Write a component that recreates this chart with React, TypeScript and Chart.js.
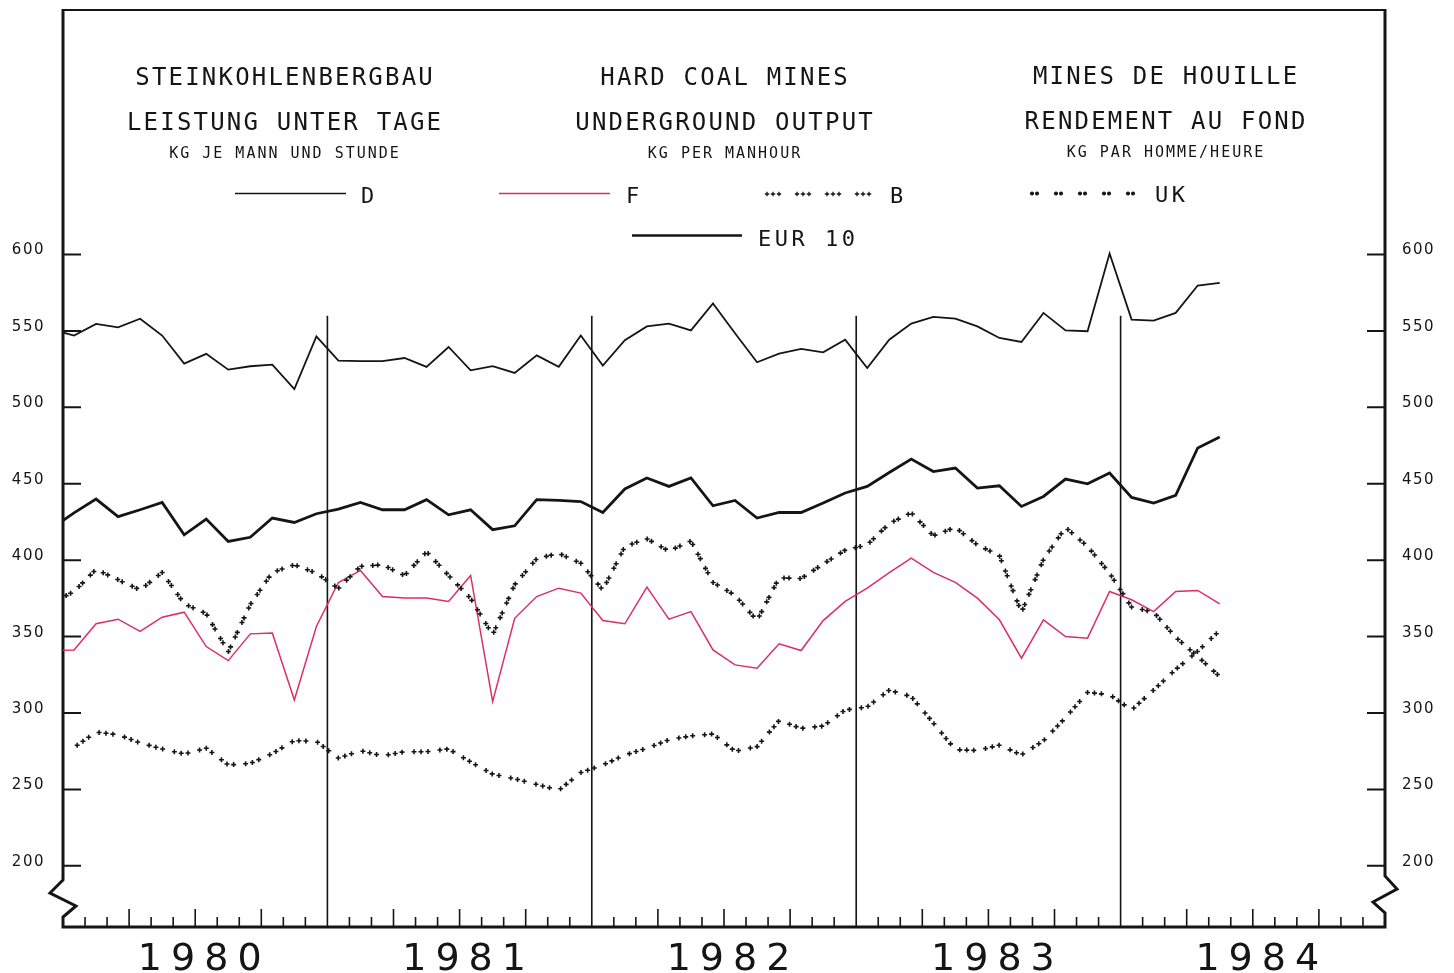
import React, { useEffect, useRef } from 'react';
import { Chart, registerables } from 'chart.js';

Chart.register(...registerables);

// ---------------- data ----------------
// first entry of every series is Dec 1979 (only its segment reaching the left frame is visible)
const monthLabels: string[] = (() => {
  const out: string[] = [];
  for (let i = 0; i < 54; i++) {
    const t = 11 + i;
    const y = 1979 + Math.floor(t / 12);
    const m = (t % 12) + 1;
    out.push(`${y}-${m < 10 ? '0' + m : m}`);
  }
  return out;
})();

const yearLabels = ['1980', '1981', '1982', '1983', '1984'];
const yTickValues = [200, 250, 300, 350, 400, 450, 500, 550, 600];
const seriesNames = ['D', 'F', 'B', 'UK', 'EUR 10'];

const seriesD = [551, 547, 554.6, 552.4, 558, 547, 528.6, 535, 524.7, 526.9, 528, 512, 546.5,
  530.6, 530.2, 530.2, 532.3, 526.5, 539.5, 524.2, 527, 522.5, 534, 526.5, 547,
  527.3, 543.9, 553, 554.8, 550.4, 568, 548.5, 529.5, 535.2, 538.2, 536, 544.3,
  525.8, 544.3, 554.8, 559.2, 558, 553, 545.4, 542.8, 561.8, 550.4, 549.8, 600.7,
  557.4, 556.8, 561.8, 579.7, 581.5];

const seriesF = [341, 341.3, 358.4, 361.4, 353.4, 362.7, 366, 343.5, 334.3, 351.8, 352.3, 308.6, 356.6,
  385.4, 393.3, 376.2, 375.2, 375.2, 373, 390, 307.5, 362, 376.2, 381.7, 378.5,
  360.5, 358.4, 382.4, 361.4, 366.4, 341.3, 331.5, 329.3, 345.3, 340.9, 360.5, 373,
  381.7, 391.8, 401.4, 392, 385.5, 375.2, 361, 335.9, 361, 350, 349, 379.5,
  374.1, 366.4, 379.5, 380.2, 371.4];

const seriesB = [372, 379.5, 394, 387.2, 380.5, 392, 371.5, 365, 340, 371, 392, 397, 391.5,
  381.5, 396, 397, 390, 405.5, 390, 375, 351.2, 384, 401, 404.5, 398,
  380.5, 409, 414, 406, 412.5, 385.5, 377, 360.5, 388.5, 388, 397.5, 406.6,
  410, 424, 431, 416, 421.5, 410, 403, 365.8, 400.5, 421.5, 409, 391.5,
  369.3, 366, 349.6, 337, 323.8];

const seriesUK = [276, 277.5, 287.5, 285.8, 280.5, 276.5, 273.2, 277, 266, 267, 273.5, 282, 281.5,
  270.5, 275.4, 272, 274.7, 274.7, 276.5, 268, 260, 257, 253.3, 249.5, 261,
  266, 272.5, 277, 282.5, 285, 286.3, 275, 278, 295, 290, 291.5, 302,
  304, 315, 310.7, 293.5, 276, 275.5, 279, 272.6, 281.9, 297, 313.5, 312,
  302, 315, 328.5, 340.5, 354];

const seriesEUR = [421, 431, 440, 428.5, 433, 437.8, 416.6, 426.9, 412.3, 415, 427.6, 424.7, 430.4,
  433.4, 437.8, 433, 433, 439.6, 429.7, 433, 420, 422.5, 439.6, 439.2, 438.4,
  431.2, 446.6, 453.8, 448.3, 453.8, 435.6, 439.1, 427.6, 431.2, 431.2, 437.4, 444,
  448.3, 457.4, 466.2, 458, 460.3, 447.2, 448.7, 435.2, 441.7, 453.1, 450, 457,
  441.1, 437.4, 442.4, 473.4, 480.6];

const titleColumns = [
  ['STEINKOHLENBERGBAU', 'LEISTUNG UNTER TAGE', 'KG JE MANN UND STUNDE'],
  ['HARD COAL MINES', 'UNDERGROUND OUTPUT', 'KG PER MANHOUR'],
  ['MINES DE HOUILLE', 'RENDEMENT AU FOND', 'KG PAR HOMME/HEURE'],
];

// ---------------- style / layout ----------------
const INK = '#151515';
const RED = '#dd2e63';
const MONO = '"DejaVu Sans Mono", monospace';
const SANS = '"DejaVu Sans", sans-serif';
const SEPARATOR_TOP = 560;
const titleCenters = [284, 724, 1165];
const titleBaselines = [85, 129.5, 158];
const legendLayout: Record<string, any> = {
  D: { kind: 'line', color: INK, width: 1.6, x0: 235, x1: 346, y: 193.5, tx: 361, ty: 202.5 },
  F: { kind: 'line', color: RED, width: 1.4, x0: 499, x1: 610, y: 193.5, tx: 626, ty: 202.5 },
  B: { kind: 'plus', x0: 767, x1: 874, y: 194, tx: 890, ty: 202.5 },
  UK: { kind: 'star', x0: 1032, x1: 1135, y: 193.5, tx: 1155, ty: 201.5 },
  'EUR 10': { kind: 'line', color: INK, width: 2.4, x0: 632, x1: 742, y: 235.5, tx: 758, ty: 246 },
};

const toPoints = (arr: number[]) => arr.map((v, i) => ({ x: i - 0.5, y: v }));

function drawSpaced(ctx: any, text: string, cx: number, baseline: number, font: string, ls: number) {
  ctx.font = font;
  ctx.letterSpacing = ls + 'px';
  ctx.textAlign = 'left';
  ctx.textBaseline = 'alphabetic';
  const w = ctx.measureText(text).width;
  ctx.fillText(text, cx - (w - ls) / 2, baseline);
  ctx.letterSpacing = '0px';
}

function walkMarks(pts: { x: number; y: number }[], groupN: number, pitch: number, period: number,
  cb: (x: number, y: number) => void) {
  const posOf = (j: number) => Math.floor(j / groupN) * period + (j % groupN) * pitch;
  let total = 0;
  let j = 0;
  for (let i = 0; i < pts.length - 1; i++) {
    const a = pts[i], b = pts[i + 1];
    const L = Math.hypot(b.x - a.x, b.y - a.y);
    if (L <= 0) continue;
    while (posOf(j) <= total + L) {
      const t = (posOf(j) - total) / L;
      cb(a.x + (b.x - a.x) * t, a.y + (b.y - a.y) * t);
      j++;
    }
    total += L;
  }
}

function markPath(ctx: any, kind: string, x: number, y: number, r: number) {
  ctx.moveTo(x - r, y); ctx.lineTo(x + r, y);
  ctx.moveTo(x, y - r); ctx.lineTo(x, y + r);
  if (kind === 'star') {
    const d = r * 0.7;
    ctx.moveTo(x - d, y - d); ctx.lineTo(x + d, y + d);
    ctx.moveTo(x - d, y + d); ctx.lineTo(x + d, y - d);
  }
}

const decorPlugin = {
  id: 'decor',
  beforeDraw(chart: any) {
    const ctx = chart.ctx;
    ctx.save();
    ctx.fillStyle = '#ffffff';
    ctx.fillRect(0, 0, chart.width, chart.height);
    ctx.restore();
    const spacing: Record<string, string> = { x: '9px', y: '1.5px', y2: '1.5px' };
    Object.keys(spacing).forEach((id) => {
      const s: any = chart.scales[id];
      if (s && !s.__spaced) {
        const orig = s.drawLabels.bind(s);
        s.drawLabels = (area: any) => {
          ctx.save();
          ctx.letterSpacing = spacing[id];
          orig(area);
          ctx.restore();
        };
        s.__spaced = true;
      }
    });
  },
  beforeDatasetsDraw(chart: any) {
    const ctx = chart.ctx;
    const { left, right, top, bottom } = chart.chartArea;
    const xs = chart.scales.x;
    const ys = chart.scales.y;
    ctx.save();
    ctx.strokeStyle = INK;
    ctx.fillStyle = INK;
    ctx.lineCap = 'butt';
    ctx.lineJoin = 'miter';

    // month ticks
    ctx.lineWidth = 1.6;
    ctx.beginPath();
    for (let m = 1; m < 60; m++) {
      if (m % 12 === 0) continue;
      const x = xs.getPixelForValue(m);
      const len = m % 3 === 0 ? 18 : 10;
      ctx.moveTo(x, bottom);
      ctx.lineTo(x, bottom - len);
    }
    ctx.stroke();

    // year separators
    ctx.lineWidth = 1.6;
    ctx.beginPath();
    const sepTop = ys.getPixelForValue(SEPARATOR_TOP);
    for (let m = 12; m < 60; m += 12) {
      const x = xs.getPixelForValue(m);
      ctx.moveTo(x, sepTop);
      ctx.lineTo(x, bottom);
    }
    ctx.stroke();

    // y ticks both sides
    ctx.lineWidth = 2;
    ctx.beginPath();
    yTickValues.forEach((v) => {
      const y = ys.getPixelForValue(v);
      ctx.moveTo(left, y); ctx.lineTo(left + 18, y);
      ctx.moveTo(right - 18, y); ctx.lineTo(right, y);
    });
    ctx.stroke();

    // frame
    ctx.lineWidth = 2;
    ctx.beginPath();
    ctx.moveTo(left - 1, top); ctx.lineTo(right + 1, top);
    ctx.stroke();
    ctx.lineWidth = 3;
    ctx.beginPath();
    ctx.moveTo(left, top - 1);
    ctx.lineTo(left, bottom - 47);
    ctx.lineTo(left - 13, bottom - 34);
    ctx.lineTo(left + 13, bottom - 21);
    ctx.lineTo(left, bottom - 10);
    ctx.lineTo(left, bottom + 1.5);
    ctx.moveTo(right, top - 1);
    ctx.lineTo(right, bottom - 51);
    ctx.lineTo(right + 12, bottom - 38);
    ctx.lineTo(right - 12, bottom - 25);
    ctx.lineTo(right, bottom - 14);
    ctx.lineTo(right, bottom + 1.5);
    ctx.moveTo(left, bottom);
    ctx.lineTo(right, bottom);
    ctx.stroke();

    // titles
    titleColumns.forEach((lines, c) => {
      lines.forEach((txt, r) => {
        const font = r < 2 ? `24px ${MONO}` : `15px ${MONO}`;
        drawSpaced(ctx, txt, titleCenters[c], titleBaselines[r] - (c === 2 ? 1 : 0), font, r < 2 ? 2.2 : 2);
      });
    });

    // legend
    seriesNames.forEach((name) => {
      const L = legendLayout[name];
      if (L.kind === 'line') {
        ctx.strokeStyle = L.color;
        ctx.lineWidth = L.width;
        ctx.beginPath();
        ctx.moveTo(L.x0, L.y); ctx.lineTo(L.x1, L.y);
        ctx.stroke();
      } else {
        ctx.strokeStyle = INK;
        ctx.lineWidth = 1.3;
        ctx.beginPath();
        const pts = [{ x: L.x0, y: L.y }, { x: L.x1, y: L.y }];
        if (L.kind === 'plus') walkMarks(pts, 3, 6, 30, (x, y) => markPath(ctx, 'plus', x, y, 2.2));
        else walkMarks(pts, 2, 5, 24, (x, y) => markPath(ctx, 'star', x, y, 2));
        ctx.stroke();
      }
      ctx.fillStyle = INK;
      ctx.font = `22px ${MONO}`;
      ctx.letterSpacing = '3.5px';
      ctx.textAlign = 'left';
      ctx.textBaseline = 'alphabetic';
      ctx.fillText(name, L.tx, L.ty);
      ctx.letterSpacing = '0px';
    });
    ctx.restore();
  },
  afterDatasetsDraw(chart: any) {
    const ctx = chart.ctx;
    const { left, right } = chart.chartArea;
    ctx.save();
    ctx.strokeStyle = INK;
    ctx.lineWidth = 1.6;
    chart.data.datasets.forEach((ds: any, i: number) => {
      if (!ds.markStyle) return;
      const meta = chart.getDatasetMeta(i);
      const pts = meta.data.map((e: any) => ({ x: e.x, y: e.y }));
      ctx.beginPath();
      walkMarks(pts, ds.markGroup, ds.markPitch, ds.markPeriod, (x, y) => {
        if (x < left + 3 || x > right - 2) return;
        markPath(ctx, ds.markStyle, x, y, 2.5);
      });
      ctx.stroke();
    });
    ctx.restore();
  },
};

export default function App() {
  const canvasRef = useRef<HTMLCanvasElement | null>(null);

  useEffect(() => {
    const canvas = canvasRef.current;
    if (!canvas) return;
    const yCommon = (side: 'left' | 'right') => ({
      type: 'linear' as const,
      position: side,
      min: 160,
      max: 760,
      grid: { display: false, drawTicks: false },
      border: { display: false },
      afterBuildTicks: (s: any) => { s.ticks = yTickValues.map((v) => ({ value: v })); },
      afterFit: (s: any) => {
        s.width = side === 'left' ? 63 : 69;
        s.paddingTop = 0;
        s.paddingBottom = 0;
      },
      ticks: {
        color: INK,
        font: { family: SANS, size: 15 },
        padding: side === 'left' ? 18 : 17,
        labelOffset: -4,
        callback: (v: any) => String(v),
      },
    });

    const chart = new Chart(canvas, {
      type: 'line',
      data: {
        labels: monthLabels,
        datasets: [
          {
            label: 'EUR 10', data: toPoints(seriesEUR), borderColor: INK, borderWidth: 2.8,
            pointRadius: 0, tension: 0, fill: false,
          },
          {
            label: 'D', data: toPoints(seriesD), borderColor: INK, borderWidth: 1.8,
            pointRadius: 0, tension: 0, fill: false,
          },
          {
            label: 'F', data: toPoints(seriesF), borderColor: RED, borderWidth: 1.5,
            pointRadius: 0, tension: 0, fill: false,
          },
          {
            label: 'B', data: toPoints(seriesB), showLine: false, pointRadius: 0,
            borderColor: INK, markStyle: 'plus', markGroup: 2, markPitch: 5, markPeriod: 16,
          } as any,
          {
            label: 'UK', data: toPoints(seriesUK), showLine: false, pointRadius: 0,
            borderColor: INK, markStyle: 'plus', markGroup: 3, markPitch: 7, markPeriod: 26,
          } as any,
        ],
      },
      options: {
        responsive: false,
        maintainAspectRatio: false,
        devicePixelRatio: 1,
        animation: false,
        parsing: true,
        layout: { padding: { top: 10, left: 0, right: 0, bottom: 0 } },
        plugins: {
          legend: { display: false },
          tooltip: { enabled: false },
          title: { display: false },
        },
        scales: {
          x: {
            type: 'linear',
            min: 0,
            max: 60,
            grid: { display: false, drawTicks: false },
            border: { display: false },
            afterBuildTicks: (s: any) => { s.ticks = yearLabels.map((_, i) => ({ value: 6 + 12 * i })); },
            afterFit: (s: any) => {
              s.height = 46;
              s.paddingLeft = 0;
              s.paddingRight = 0;
            },
            ticks: {
              color: INK,
              font: { family: SANS, size: 38 },
              padding: 10,
              maxRotation: 0,
              autoSkip: false,
              labelOffset: 9,
              callback: (v: any) => yearLabels[Math.round((Number(v) - 6) / 12)] ?? '',
            },
          },
          y: yCommon('left'),
          y2: yCommon('right'),
        },
      } as any,
      plugins: [decorPlugin],
    });
    return () => chart.destroy();
  }, []);

  return (
    <div style={{ position: 'fixed', left: 0, top: 0, width: 1454, height: 973, background: '#fff' }}>
      <canvas ref={canvasRef} width={1454} height={973} style={{ display: 'block', width: 1454, height: 973 }} />
    </div>
  );
}
